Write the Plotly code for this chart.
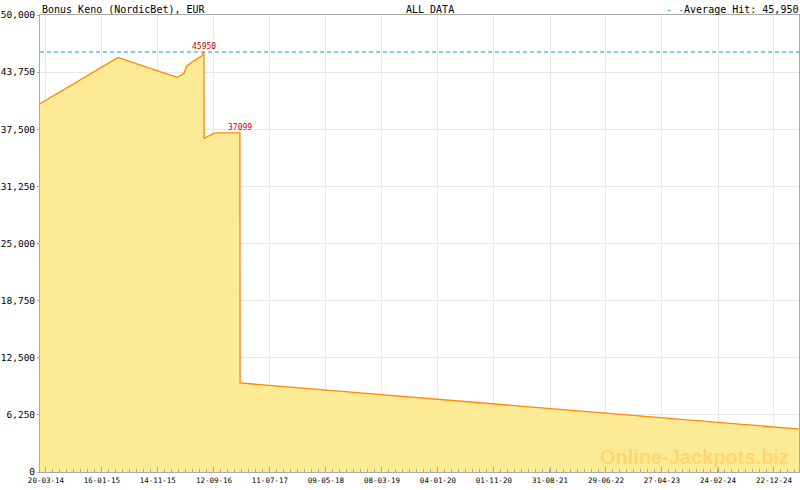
import plotly.graph_objects as go

# jackpot history
dates = ['2014-02-16', '2015-04-13', '2015-11-25', '2016-02-27', '2016-04-03',
         '2016-04-18', '2016-05-23', '2016-07-07', '2016-07-20', '2016-07-21',
         '2016-08-03', '2016-09-08', '2016-09-17', '2017-01-30', '2017-01-31',
         '2018-06-15', '2020-01-04', '2022-06-29', '2023-12-01', '2025-05-06']
values = [40300, 45350, 43800, 43180, 43620,
          44420, 44940, 45510, 45950, 36450,
          36650, 36950, 37099, 37099, 9750,
          8900, 7950, 6420, 5550, 4700]

avg_hit = 45950
peak_labels = [('2016-07-20', 45950), ('2017-01-30', 37099)]

tick_dates = ['2014-03-20', '2015-01-16', '2015-11-14', '2016-09-12', '2017-07-11',
              '2018-05-09', '2019-03-08', '2020-01-04', '2020-11-01', '2021-08-31',
              '2022-06-29', '2023-04-27', '2024-02-24', '2024-12-22']
y_ticks = [0, 6250, 12500, 18750, 25000, 31250, 37500, 43750, 50000]

mono = 'DejaVu Sans Mono'
grid = '#e8e8e8'
axis_col = '#aaaaaa'
avg_col = 'rgb(20,155,210)'

fig = go.Figure()

fig.add_trace(go.Scatter(
    x=dates, y=values, mode='lines',
    line=dict(color='#ff8800', width=1.3),
    fill='tozeroy', fillcolor='rgb(253,234,148)',
    hoverinfo='skip', showlegend=False))

fig.add_hline(y=avg_hit, line=dict(color=avg_col, width=1.2, dash='4px,3px'))

for d, v in peak_labels:
    fig.add_annotation(x=d, y=v, text=str(v), showarrow=False,
                       yanchor='bottom', yshift=-1,
                       font=dict(family=mono, size=8, color='#cc0000'))

# header texts
fig.add_annotation(xref='paper', yref='paper', x=0, y=1, yanchor='bottom', xanchor='left',
                   text='Bonus Keno (NordicBet), EUR', showarrow=False,
                   font=dict(family=mono, size=10, color='black'), yshift=-2)
fig.add_annotation(xref='paper', yref='paper', x=0.479, y=1, yanchor='bottom', xanchor='left',
                   text='ALL DATA', showarrow=False,
                   font=dict(family=mono, size=10, color='black'), yshift=-2)
fig.add_annotation(xref='paper', yref='paper', x=1.001, y=1, yanchor='bottom', xanchor='right',
                   text='<span style="color:%s">- -</span>Average Hit: 45,950' % avg_col,
                   showarrow=False, font=dict(family=mono, size=10, color='black'), yshift=-2)

# watermark
fig.add_annotation(xref='paper', yref='paper', x=0.99, y=0.033, xanchor='right', yanchor='middle',
                   text='<b>Online-Jackpots.biz</b>', showarrow=False,
                   font=dict(family='Liberation Sans', size=20, color='rgba(255,190,70,0.45)'))

fig.update_layout(
    width=800, height=490,
    margin=dict(l=40, r=1, t=15, b=18, autoexpand=False),
    paper_bgcolor='white', plot_bgcolor='white',
    xaxis=dict(
        type='date', automargin=False,
        range=['2014-02-16', '2025-05-06'],
        tickvals=tick_dates, tickformat='%d-%m-%y',
        ticks='inside', ticklen=5, tickcolor=axis_col, ticklabelstandoff=1,
        minor=dict(ticks='inside', ticklen=3, tickcolor=axis_col,
                   tick0='2014-03-20', dtick=302 / 8 * 86400000, showgrid=False),
        showgrid=True, gridcolor=grid, gridwidth=1,
        showline=True, linecolor=axis_col, linewidth=1, mirror=True,
        tickfont=dict(family=mono, size=7.5, color='black'),
        zeroline=False,
    ),
    yaxis=dict(
        range=[0, 50000], tickvals=y_ticks, tickformat=',d', automargin=False,
        ticks='outside', ticklen=2, tickcolor=axis_col,
        showgrid=True, gridcolor=grid, gridwidth=1,
        showline=True, linecolor=axis_col, linewidth=1, mirror=True,
        tickfont=dict(family=mono, size=9.5, color='black'),
        zeroline=False,
    ),
)

fig.write_html("out.html", config={'displayModeBar': False},
               post_script="document.body.style.margin='0';")
